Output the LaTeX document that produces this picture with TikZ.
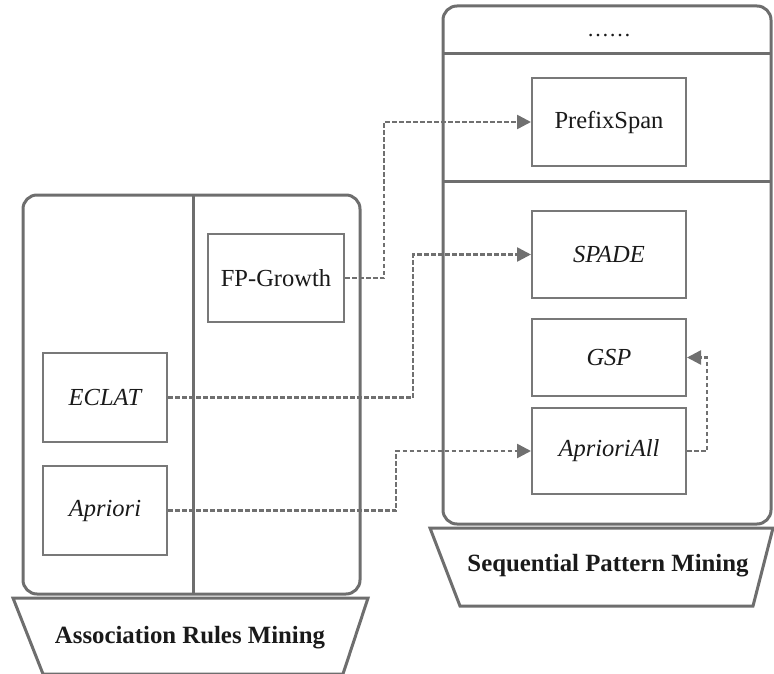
\documentclass[tikz,border=0pt]{standalone}
\usepackage{fontspec}
\setmainfont{Liberation Serif}
\usetikzlibrary{arrows.meta,calc}
\definecolor{frame}{HTML}{6E6E6E}
\definecolor{boxline}{HTML}{787878}
\definecolor{link}{HTML}{707070}
\definecolor{ink}{HTML}{1A1A1A}
\tikzset{
  container/.style={draw=frame,line width=3pt,rounded corners=14pt},
  divider/.style={draw=frame,line width=3pt},
  algo/.style={draw=boxline,line width=2pt,fill=white,inner sep=0pt,
    font=\fontsize{24.5}{29}\selectfont,text=ink},
  base/.style={draw=frame,line width=3pt,fill=white,line join=miter},
  basetext/.style={font=\fontsize{24.8}{29}\selectfont\bfseries,text=ink},
  conn/.style={draw=link,line width=2.5pt,dash pattern=on 4.5pt off 2.5pt,
    -{Triangle[length=14pt,width=14pt]}},
}
\begin{document}
\begin{tikzpicture}[x=1pt,y=-1pt]
\useasboundingbox (0,0) rectangle (774,674);

% left container: association rules
\draw[container] (23,195) rectangle (360,594);
\draw[divider] (193,195) -- (193,594);
% right container: sequential patterns
\draw[container] (443,6) rectangle (771,524);
\draw[divider] (443,54) -- (771,54);
\draw[divider] (443,182) -- (771,182);
\node[font=\fontsize{22}{26}\selectfont,text=ink] (more) at (609,36) {……};

% algorithm boxes
\newcommand{\algbox}[6]{%
  \node[algo,minimum width=#4pt,minimum height=#5pt,anchor=north west] (#1) at (#2,#3) {#6};}
\algbox{fp}{207}{233}{136}{88}{FP-Growth}
\algbox{eclat}{42}{352}{124}{89}{\itshape ECLAT}
\algbox{apriori}{42}{465}{124}{89}{\itshape Apriori}
\algbox{prefix}{531}{77}{154}{88}{PrefixSpan}
\algbox{spade}{531}{210}{154}{87}{\itshape SPADE}
\algbox{gsp}{531}{318}{154}{77}{\itshape GSP}
\algbox{aall}{531}{407}{154}{86}{\itshape AprioriAll}

% base plates
\draw[base] (13,598) -- (368,598) -- (343,674) -- (43,674) -- cycle;
\node[basetext] (arm) at (190,638) {Association Rules Mining};
\draw[base] (430,528) -- (773,528) -- (753,606) -- (460,606) -- cycle;
\node[basetext] (spm) at (608,566) {Sequential Pattern Mining};

% elbow positions of the links
\coordinate (k1) at (384,0);
\coordinate (k2) at (413,0);
\coordinate (k3) at (396,0);
\coordinate (k4) at (707,0);

\draw[conn] (fp.east) -- (fp.east -| k1) |- (prefix.west);
\draw[conn] (eclat.east) -- (eclat.east -| k2) |- (spade.west);
\draw[conn] (apriori.east) -- (apriori.east -| k3) |- (aall.west);
\draw[conn] (aall.east) -- (aall.east -| k4) |- (gsp.east);
\end{tikzpicture}
\end{document}
